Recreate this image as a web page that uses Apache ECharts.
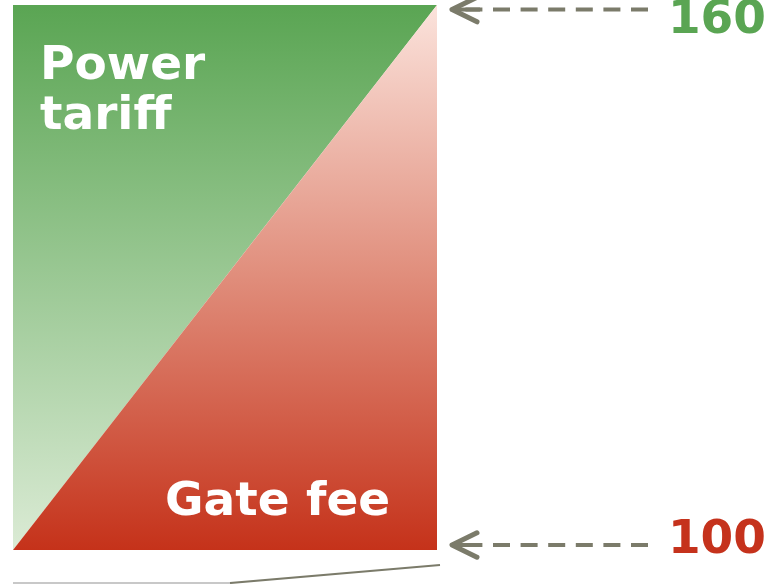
<!DOCTYPE html>
<html>
<head>
<meta charset="utf-8">
<script src="https://cdn.jsdelivr.net/npm/echarts@6/dist/echarts.min.js"></script>
<style>
  html, body { margin: 0; padding: 0; background: #fff; }
  #chart { width: 767px; height: 584px; }
</style>
</head>
<body>
<div id="chart"></div>
<script>
// block values: gate fee (bottom) and power tariff (top)
const levels = [100, 160];
const levelLabels = ['100', '160'];
const levelColors = ['#c5321c', '#5aa553'];
// diagonal split across the block (x in block px units)
const splitLine = [[0, 100], [424, 160]];
// arrow positions: tip x, tail x, y value per level
const arrowTipX = 439;
const arrowTailX = 635;
const arrowY = [100.55, 159.5];
// thin base line under the block
const baseLight = [[0, 96.36], [217, 96.36]];
const baseDark = [[217, 96.36], [427, 98.35]];

const arrowGray = '#7b7b6a';

function arrowSeries(y) {
  const armDx = 25, armDy = 1.35;
  return [
    {
      type: 'line', clip: false, silent: true, symbol: 'none',
      data: [[arrowTailX, y], [arrowTipX, y]],
      lineStyle: { color: arrowGray, width: 4, type: [17, 10.6] }
    },
    {
      type: 'line', clip: false, silent: true, symbol: 'none',
      data: [[arrowTipX + armDx, y + armDy], [arrowTipX, y], [arrowTipX + armDx, y - armDy]],
      lineStyle: { color: arrowGray, width: 5, cap: 'round', join: 'round' }
    },
    {
      type: 'line', clip: false, silent: true, symbol: 'none',
      data: [[arrowTipX, y], [arrowTipX + 28, y]],
      lineStyle: { color: arrowGray, width: 4 }
    }
  ];
}

const chart = echarts.init(document.getElementById('chart'));
const font = 'bold 47px "DejaVu Sans"';

function label(text, x, y, fill, align) {
  return {
    type: 'text', x: x, y: y, z: 100,
    style: { text: text, font: font, fill: fill, align: align || 'left', verticalAlign: 'middle' }
  };
}

chart.setOption({
  animation: false,
  grid: { left: 13, right: 0, top: 5, bottom: 34, containLabel: false },
  xAxis: { type: 'value', min: 0, max: 754, show: false },
  yAxis: { type: 'value', min: levels[0], max: levels[1], show: false },
  series: [
    {
      type: 'line', silent: true, symbol: 'none',
      data: splitLine,
      lineStyle: { width: 0 },
      areaStyle: {
        origin: 'end', opacity: 1,
        color: new echarts.graphic.LinearGradient(0, 0, 0, 1, [
          { offset: 0, color: '#5aa553' },
          { offset: 1, color: '#dbebd5' }
        ])
      }
    },
    {
      type: 'line', silent: true, symbol: 'none',
      data: splitLine,
      lineStyle: { width: 0 },
      areaStyle: {
        origin: 'start', opacity: 1,
        color: new echarts.graphic.LinearGradient(0, 0, 0, 1, [
          { offset: 0, color: '#fbe3dc' },
          { offset: 0.5, color: '#e08d7b' },
          { offset: 1, color: '#c5321a' }
        ])
      }
    },
    ...arrowSeries(arrowY[0]),
    ...arrowSeries(arrowY[1]),
    {
      type: 'line', clip: false, silent: true, symbol: 'none',
      data: baseLight,
      lineStyle: { color: '#c8c8c8', width: 2 }
    },
    {
      type: 'line', clip: false, silent: true, symbol: 'none',
      data: baseDark,
      lineStyle: { color: arrowGray, width: 2 }
    }
  ],
  graphic: [
    label('Power', 40, 67, '#fff'),
    label('tariff', 40, 117, '#fff'),
    label('Gate fee', 165, 503, '#fff'),
    label(levelLabels[1], 766, 21, levelColors[1], 'right'),
    label(levelLabels[0], 766, 541, levelColors[0], 'right')
  ]
});
</script>
</body>
</html>
